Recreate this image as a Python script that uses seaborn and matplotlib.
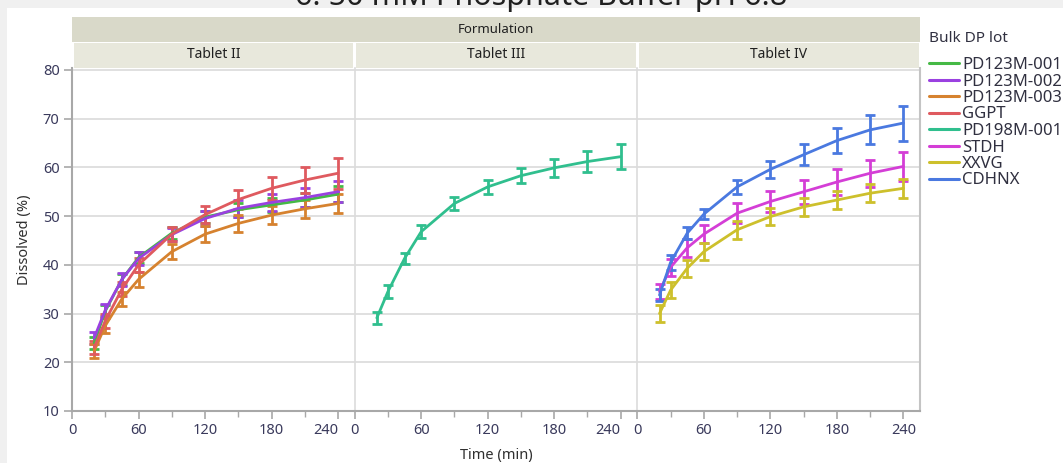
import numpy as np
import pandas as pd
import matplotlib
matplotlib.use("Agg")
import matplotlib.pyplot as plt
from matplotlib.patches import Rectangle
from matplotlib.lines import Line2D
from matplotlib.ticker import MultipleLocator
import seaborn as sns

# ---------------- data ----------------
times = [20, 30, 45, 60, 90, 120, 150, 180, 210, 240]
formulations = ["Tablet II", "Tablet III", "Tablet IV"]
lots = ["PD123M-001", "PD123M-002", "PD123M-003", "GGPT",
        "PD198M-001", "STDH", "XXVG", "CDHNX"]
lot_formulation = ["Tablet II", "Tablet II", "Tablet II", "Tablet II",
                   "Tablet III", "Tablet IV", "Tablet IV", "Tablet IV"]

pd123m_001_mean = [24.0, 30.5, 37.0, 41.5, 46.5, 49.8, 51.3, 52.3, 53.3, 54.5]
pd123m_001_sd = [1.2, 1.2, 1.2, 1.2, 1.3, 1.3, 1.4, 1.4, 1.5, 1.6]
pd123m_002_mean = [25.0, 30.7, 37.0, 41.3, 46.2, 49.5, 51.6, 52.8, 53.8, 55.0]
pd123m_002_sd = [1.2, 1.3, 1.3, 1.3, 1.4, 1.5, 1.7, 1.8, 2.0, 2.2]
pd123m_003_mean = [22.3, 27.5, 33.0, 37.0, 42.7, 46.3, 48.5, 50.2, 51.5, 52.6]
pd123m_003_sd = [1.5, 1.5, 1.5, 1.5, 1.5, 1.6, 1.7, 1.8, 1.8, 1.9]
ggpt_mean = [23.0, 28.5, 35.0, 40.0, 46.3, 50.3, 53.4, 55.7, 57.4, 58.8]
ggpt_sd = [1.3, 1.4, 1.4, 1.4, 1.5, 1.7, 2.0, 2.3, 2.7, 3.2]
pd198m_001_mean = [29.1, 34.5, 41.3, 46.8, 52.6, 56.0, 58.3, 59.9, 61.2, 62.2]
pd198m_001_sd = [1.2, 1.3, 1.2, 1.3, 1.4, 1.5, 1.6, 1.8, 2.2, 2.6]
stdh_mean = [34.5, 39.5, 43.5, 46.3, 50.6, 53.0, 55.0, 57.0, 58.8, 60.2]
stdh_sd = [1.5, 1.7, 1.8, 1.8, 2.0, 2.2, 2.5, 2.6, 2.8, 3.0]
xxvg_mean = [30.0, 34.8, 39.3, 42.7, 47.2, 49.9, 51.9, 53.3, 54.7, 55.7]
xxvg_sd = [1.8, 1.7, 1.7, 1.7, 1.8, 1.8, 1.8, 1.8, 1.9, 1.9]
cdhnx_mean = [33.8, 40.5, 46.5, 50.4, 56.0, 59.6, 62.6, 65.5, 67.7, 69.1]
cdhnx_sd = [1.2, 1.6, 1.3, 1.0, 1.4, 1.7, 2.2, 2.6, 3.0, 3.6]

means = [pd123m_001_mean, pd123m_002_mean, pd123m_003_mean, ggpt_mean,
         pd198m_001_mean, stdh_mean, xxvg_mean, cdhnx_mean]
sds = [pd123m_001_sd, pd123m_002_sd, pd123m_003_sd, ggpt_sd,
       pd198m_001_sd, stdh_sd, xxvg_sd, cdhnx_sd]

x_ticks = [0, 60, 120, 180, 240]
y_ticks = [10, 20, 30, 40, 50, 60, 70, 80]

colors = ["#45b945", "#9a41e0", "#d6822f", "#df5a5f",
          "#30bf8e", "#d43ed6", "#cdc02c", "#4a79e0"]
palette = dict(zip(lots, colors))

rows = []
for lot, form, m, s in zip(lots, lot_formulation, means, sds):
    for t, mv, sv in zip(times, m, s):
        rows.append({"Formulation": form, "Lot": lot, "Time": t,
                     "Dissolved": mv, "SD": sv})
df = pd.DataFrame(rows)

# ---------------- style ----------------
sns.set_theme(style="white")
plt.rcParams["font.family"] = ["Noto Sans", "DejaVu Sans"]

W, H = 1063, 463
fig = plt.figure(figsize=(W / 100, H / 100), dpi=100, facecolor="#f0f0f0")

# white canvas area (behind everything)
fig.patches.append(Rectangle((7 / W, 0), 1 - 7 / W, 1 - 8 / H,
                             transform=fig.transFigure, facecolor="white",
                             edgecolor="none", zorder=-5))

# cut-off title at the very top
fig.text(541 / W, 1 - 5 / H, "6. 50 mM Phosphate Buffer pH 6.8",
         ha="center", va="baseline", fontsize=22, color="#202020")

left_px, right_px = 72, 920
top_px, bot_px = 68, 411
pw = (right_px - left_px) / 3
tick_color = "#3a3a5c"
grid_color = "#dadada"

axes = []
for i, form in enumerate(formulations):
    x0 = (left_px + i * pw) / W
    ax = fig.add_axes([x0, 1 - bot_px / H, pw / W, (bot_px - top_px) / H])
    ax.set_zorder(2)
    ax.set_facecolor("none")
    axes.append(ax)
    sub = df[df["Formulation"] == form]
    for lot in sub["Lot"].unique():
        d = sub[sub["Lot"] == lot]
        ax.errorbar(d["Time"], d["Dissolved"], yerr=d["SD"], fmt="none",
                    ecolor=palette[lot], elinewidth=2.0, capsize=3.8,
                    capthick=2.0, zorder=3)
    sns.lineplot(data=sub, x="Time", y="Dissolved", hue="Lot",
                 palette=palette, ax=ax, legend=False, errorbar=None,
                 linewidth=2.0, zorder=4)
    ax.set_xlim(0, 255)
    ax.set_ylim(10, 80.4)
    ax.set_xticks(x_ticks)
    ax.set_xticklabels([str(v) for v in x_ticks])
    ax.xaxis.set_minor_locator(MultipleLocator(30))
    ax.set_yticks(y_ticks)
    for yv in y_ticks[1:]:
        ax.axhline(yv, color=grid_color, lw=1.2, zorder=1)
    ax.set_xlabel("")
    ax.set_ylabel("")
    ax.tick_params(axis="x", which="major", direction="out", length=6,
                   width=1.2, color="#a8a8a8", labelsize=10.5,
                   labelcolor=tick_color, pad=3, bottom=True)
    ax.tick_params(axis="x", which="minor", direction="out", length=4,
                   width=1.0, color="#a8a8a8", bottom=True)
    if i < 2:
        # last label shifted left so it does not collide with next panel's 0
        ax.get_xticklabels()[-1].set_horizontalalignment("right")
    if i == 0:
        ax.tick_params(axis="y", direction="out", length=6, width=1.2,
                       color="#a8a8a8", labelsize=10.5,
                       labelcolor=tick_color, pad=3, left=True)
    else:
        ax.tick_params(axis="y", left=False, labelleft=False)
    for sp in ax.spines.values():
        sp.set_visible(False)
    ax.spines["bottom"].set_visible(True)
    ax.spines["bottom"].set_color("#a8a8a8")
    ax.spines["bottom"].set_linewidth(1.5)
    ax.spines["left"].set_visible(True)
    if i == 0:
        ax.spines["left"].set_color("#a8a8a8")
        ax.spines["left"].set_linewidth(1.5)
    else:
        ax.spines["left"].set_color("#dcdcdc")
        ax.spines["left"].set_linewidth(1.2)
    if i == 2:
        ax.spines["right"].set_visible(True)
        ax.spines["right"].set_color("#c4c4c4")
        ax.spines["right"].set_linewidth(1.5)

# header bands
form_top, form_bot = 17, 42
tab_bot = top_px
fig.patches.append(Rectangle((left_px / W, 1 - form_bot / H),
                             (right_px - left_px) / W,
                             (form_bot - form_top) / H,
                             transform=fig.transFigure, facecolor="#d9d9c9",
                             edgecolor="none", zorder=1))
fig.text((left_px + right_px) / 2 / W, 1 - (form_top + form_bot) / 2 / H,
         "Formulation", ha="center", va="center", fontsize=9.5,
         fontweight="bold", color="#202020")
for i, form in enumerate(formulations):
    x0 = left_px + i * pw
    fig.patches.append(Rectangle(((x0 + 1.5) / W, 1 - tab_bot / H),
                                 (pw - 3) / W, (tab_bot - form_bot - 1) / H,
                                 transform=fig.transFigure,
                                 facecolor="#e8e8dc", edgecolor="none",
                                 zorder=1))
    fig.text((x0 + pw / 2) / W, 1 - (form_bot + tab_bot) / 2 / H, form,
             ha="center", va="center", fontsize=10, color="#202020")

# axis labels
fig.text(25 / W, 1 - (top_px + bot_px) / 2 / H, "Dissolved (%)",
         rotation=90, ha="center", va="center", fontsize=10.5,
         color="#303030")
fig.text((left_px + right_px) / 2 / W, 1 - 455 / H, "Time (min)",
         ha="center", va="center", fontsize=10.5, color="#303030")

# legend title and entries
fig.text(929 / W, 1 - 38 / H, "Bulk DP lot", ha="left", va="center",
         fontsize=11, color="#303040")
handles = [Line2D([0], [0], color=palette[l], lw=2.2) for l in lots]
leg = fig.legend(handles, lots,
                 loc="upper left", bbox_to_anchor=(929 / W, 1 - 57 / H),
                 frameon=False, fontsize=12,
                 handlelength=1.8, handletextpad=0.2, labelspacing=0.03,
                 borderaxespad=0, borderpad=0)
for t in leg.get_texts():
    t.set_color("#303040")

fig.savefig("out.png", dpi=100, facecolor=fig.get_facecolor())
